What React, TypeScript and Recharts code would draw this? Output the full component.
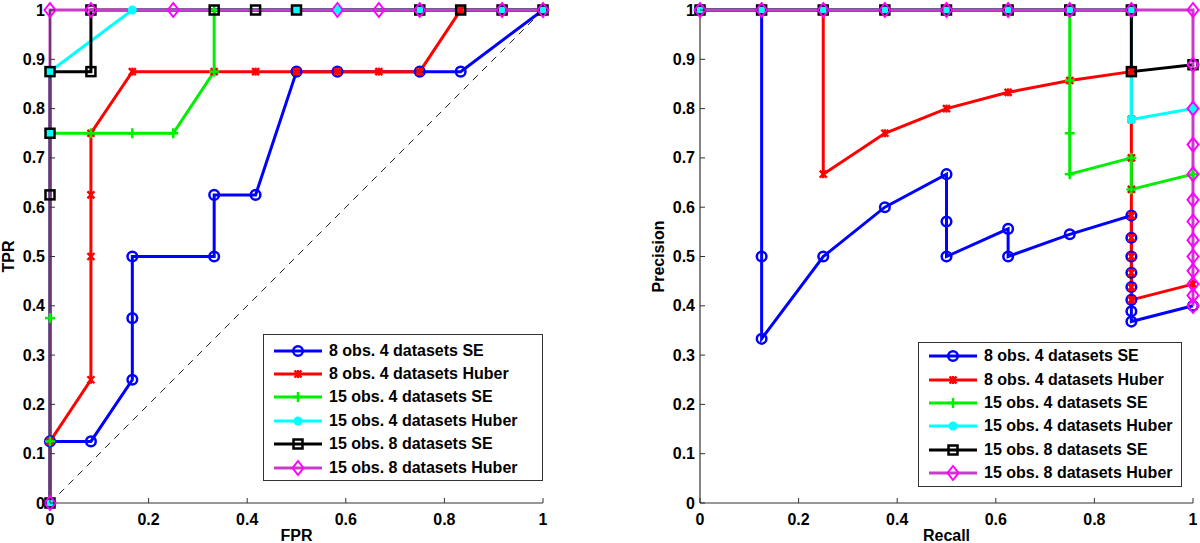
import { LineChart, Line, XAxis, YAxis, Legend } from "recharts";

const FONT = '"Liberation Sans", Arial, Helvetica, sans-serif';
const AXIS = "#333";

const SERIES_NAMES = [
  "8 obs. 4 datasets SE",
  "8 obs. 4 datasets Huber",
  "15 obs. 4 datasets SE",
  "15 obs. 4 datasets Huber",
  "15 obs. 8 datasets SE",
  "15 obs. 8 datasets Huber",
];
const SERIES_COLORS = ["#0000ff", "#ff0000", "#00ee00", "#00ffff", "#000000", "#ff00ff"];
const LINE_COLORS = ["#0000ff", "#ff0000", "#00ee00", "#00ffff", "#000000", "#c83cc8"];
const MARKERS = ["circle", "star", "plus", "dot", "square", "diamond"];

const X_TICKS = [0, 0.2, 0.4, 0.6, 0.8, 1];
const Y_TICKS = [0, 0.1, 0.2, 0.3, 0.4, 0.5, 0.6, 0.7, 0.8, 0.9, 1];

// ROC curves (FPR, TPR)
const roc8SeX = [0, 0, 0.083, 0.167, 0.167, 0.167, 0.333, 0.333, 0.417, 0.5, 0.583, 0.75, 0.833, 1];
const roc8SeY = [0, 0.125, 0.125, 0.25, 0.375, 0.5, 0.5, 0.625, 0.625, 0.875, 0.875, 0.875, 0.875, 1];
const roc8HuberX = [0, 0, 0.083, 0.083, 0.083, 0.083, 0.167, 0.333, 0.417, 0.5, 0.583, 0.667, 0.75, 0.833, 1];
const roc8HuberY = [0, 0.125, 0.25, 0.5, 0.625, 0.75, 0.875, 0.875, 0.875, 0.875, 0.875, 0.875, 0.875, 1, 1];
const roc15SeX = [0, 0, 0, 0, 0.083, 0.167, 0.25, 0.333, 0.333, 1];
const roc15SeY = [0, 0.125, 0.375, 0.75, 0.75, 0.75, 0.75, 0.875, 1, 1];
const roc15HuberX = [0, 0, 0, 0.167, 0.5, 0.583, 0.75, 0.917, 1];
const roc15HuberY = [0, 0.75, 0.875, 1, 1, 1, 1, 1, 1];
const roc15x8SeX = [0, 0, 0, 0, 0.083, 0.083, 0.333, 0.417, 0.5, 0.75, 0.833, 0.917, 1];
const roc15x8SeY = [0, 0.625, 0.75, 0.875, 0.875, 1, 1, 1, 1, 1, 1, 1, 1];
const roc15x8HuberX = [0, 0, 0.083, 0.25, 0.583, 0.667, 0.75, 0.917, 1];
const roc15x8HuberY = [0, 1, 1, 1, 1, 1, 1, 1, 1];
const rocChanceX = [0, 1];
const rocChanceY = [0, 1];

// Precision-recall curves (Recall, Precision)
const pr8SeX = [0, 0.125, 0.125, 0.125, 0.25, 0.375, 0.5, 0.5, 0.5, 0.625, 0.625, 0.75, 0.875, 0.875, 0.875, 0.875, 0.875, 0.875, 0.875, 0.875, 1];
const pr8SeY = [1, 1, 0.5, 0.333, 0.5, 0.6, 0.667, 0.571, 0.5, 0.556, 0.5, 0.545, 0.583, 0.538, 0.5, 0.467, 0.438, 0.412, 0.389, 0.368, 0.4];
const pr8HuberX = [0, 0.125, 0.25, 0.25, 0.375, 0.5, 0.625, 0.75, 0.875, 0.875, 0.875, 0.875, 0.875, 0.875, 0.875, 0.875, 0.875, 0.875, 1];
const pr8HuberY = [1, 1, 1, 0.667, 0.75, 0.8, 0.833, 0.857, 0.875, 0.778, 0.7, 0.636, 0.583, 0.538, 0.5, 0.467, 0.438, 0.412, 0.444];
const pr15SeX = [0, 0.125, 0.25, 0.375, 0.5, 0.625, 0.75, 0.75, 0.75, 0.75, 0.875, 0.875, 1];
const pr15SeY = [1, 1, 1, 1, 1, 1, 1, 0.857, 0.75, 0.667, 0.7, 0.636, 0.667];
const pr15HuberX = [0, 0.125, 0.25, 0.375, 0.5, 0.625, 0.75, 0.875, 0.875, 1];
const pr15HuberY = [1, 1, 1, 1, 1, 1, 1, 1, 0.778, 0.8];
const pr15x8SeX = [0, 0.125, 0.25, 0.375, 0.5, 0.625, 0.75, 0.875, 0.875, 1];
const pr15x8SeY = [1, 1, 1, 1, 1, 1, 1, 1, 0.875, 0.889];
const pr15x8HuberX = [0, 0.125, 0.25, 0.375, 0.5, 0.625, 0.75, 0.875, 1, 1, 1, 1, 1, 1, 1, 1, 1, 1, 1, 1, 1];
const pr15x8HuberY = [1, 1, 1, 1, 1, 1, 1, 1, 1, 0.889, 0.8, 0.727, 0.667, 0.615, 0.571, 0.533, 0.5, 0.471, 0.444, 0.421, 0.4];

type Pt = { x: number; y: number };
const toPoints = (xs: number[], ys: number[]): Pt[] => xs.map((x, i) => ({ x, y: ys[i] }));

const rocSeries = [
  toPoints(roc8SeX, roc8SeY),
  toPoints(roc8HuberX, roc8HuberY),
  toPoints(roc15SeX, roc15SeY),
  toPoints(roc15HuberX, roc15HuberY),
  toPoints(roc15x8SeX, roc15x8SeY),
  toPoints(roc15x8HuberX, roc15x8HuberY),
];
const prSeries = [
  toPoints(pr8SeX, pr8SeY),
  toPoints(pr8HuberX, pr8HuberY),
  toPoints(pr15SeX, pr15SeY),
  toPoints(pr15HuberX, pr15HuberY),
  toPoints(pr15x8SeX, pr15x8SeY),
  toPoints(pr15x8HuberX, pr15x8HuberY),
];

function Marker({ kind, cx, cy, color }: { kind: string; cx: number; cy: number; color: string }) {
  switch (kind) {
    case "circle":
      return <circle cx={cx} cy={cy} r={4.8} fill="none" stroke={color} strokeWidth={2.5} />;
    case "star":
      return (
        <g stroke={color} strokeWidth={2.4}>
          <line x1={cx - 3.5} y1={cy - 3.5} x2={cx + 3.5} y2={cy + 3.5} />
          <line x1={cx - 3.5} y1={cy + 3.5} x2={cx + 3.5} y2={cy - 3.5} />
          <line x1={cx} y1={cy - 4} x2={cx} y2={cy + 4} />
        </g>
      );
    case "plus":
      return (
        <g stroke={color} strokeWidth={2.5}>
          <line x1={cx - 5} y1={cy} x2={cx + 5} y2={cy} />
          <line x1={cx} y1={cy - 5} x2={cx} y2={cy + 5} />
        </g>
      );
    case "dot":
      return <circle cx={cx} cy={cy} r={4.5} fill={color} />;
    case "square":
      return <rect x={cx - 4.5} y={cy - 4.5} width={9} height={9} fill="none" stroke={color} strokeWidth={2.5} />;
    case "diamond":
      return (
        <polygon
          points={`${cx},${cy - 7} ${cx + 5.5},${cy} ${cx},${cy + 7} ${cx - 5.5},${cy}`}
          fill="none"
          stroke={color}
          strokeWidth={2}
        />
      );
    default:
      return null;
  }
}

const fmt = (v: number) => String(Number(v.toFixed(1)));

const tickText = { fontFamily: FONT, fontSize: 16, fontWeight: 700, fill: "#000" };

const BottomTick = (p: any) => (
  <g>
    <line x1={p.x} y1={p.y} x2={p.x} y2={p.y - 5} stroke={AXIS} />
    <text x={p.x} y={p.y + 22} textAnchor="middle" style={tickText}>
      {fmt(p.payload.value)}
    </text>
  </g>
);
const TopTick = (p: any) => <line x1={p.x} y1={p.y} x2={p.x} y2={p.y + 5} stroke={AXIS} />;
const LeftTick = (p: any) => (
  <g>
    <line x1={p.x} y1={p.y} x2={p.x + 5} y2={p.y} stroke={AXIS} />
    <text x={p.x - 5} y={p.y + 5.5} textAnchor="end" style={tickText}>
      {fmt(p.payload.value)}
    </text>
  </g>
);
const RightTick = (p: any) => <line x1={p.x} y1={p.y} x2={p.x - 5} y2={p.y} stroke={AXIS} />;

function LegendBox({ width, height, padTop }: { width: number; height: number; padTop: number }) {
  return (
    <div
      style={{
        width,
        height,
        boxSizing: "border-box",
        border: `1px solid ${AXIS}`,
        background: "#fff",
        paddingTop: padTop,
      }}
    >
      {SERIES_NAMES.map((name, i) => (
        <div key={name} style={{ display: "flex", alignItems: "center", height: 23.4 }}>
          <svg width={65} height={20} style={{ flex: "none" }}>
            <line x1={10} y1={10} x2={58} y2={10} stroke={LINE_COLORS[i]} strokeWidth={3} />
            <Marker kind={MARKERS[i]} cx={34} cy={10} color={SERIES_COLORS[i]} />
          </svg>
          <span
            style={{
              fontFamily: FONT,
              fontSize: 16,
              fontWeight: 700,
              color: "#000",
              whiteSpace: "nowrap",
            }}
          >
            {name}
          </span>
        </div>
      ))}
    </div>
  );
}

interface PanelProps {
  series: Pt[][];
  chance?: Pt[];
  xLabel: string;
  yLabel: string;
  left: number;
  width: number;
  rightMargin: number;
  legend: { left: number; top: number; width: number; height: number; padTop: number };
}

function Panel({ series, chance, xLabel, yLabel, left, width, rightMargin, legend }: PanelProps) {
  return (
    <div style={{ position: "absolute", left, top: 0 }}>
      <LineChart width={width} height={543} margin={{ top: 10, right: rightMargin, bottom: 0, left: 0 }}>
        <XAxis
          dataKey="x"
          type="number"
          domain={[0, 1]}
          ticks={X_TICKS}
          interval={0}
          tickSize={0}
          tickMargin={0}
          tick={BottomTick}
          height={40}
          axisLine={{ stroke: AXIS, strokeWidth: 1.2 }}
          label={{
            content: (p: any) => (
              <text
                x={p.viewBox.x + p.viewBox.width / 2}
                y={p.viewBox.y + 38}
                textAnchor="middle"
                style={tickText}
              >
                {xLabel}
              </text>
            ),
          }}
        />
        <XAxis
          xAxisId="top"
          orientation="top"
          type="number"
          domain={[0, 1]}
          allowDataOverflow
          ticks={X_TICKS}
          interval={0}
          tickSize={0}
          tickMargin={0}
          tick={TopTick}
          height={0}
          axisLine={{ stroke: AXIS, strokeWidth: 1.2 }}
        />
        <YAxis
          type="number"
          domain={[0, 1]}
          ticks={Y_TICKS}
          interval={0}
          tickSize={0}
          tickMargin={0}
          tick={LeftTick}
          width={50}
          axisLine={{ stroke: AXIS, strokeWidth: 1.2 }}
          label={{
            content: (p: any) => {
              const cx = 14;
              const cy = p.viewBox.y + p.viewBox.height / 2;
              return (
                <text x={cx} y={cy} transform={`rotate(-90 ${cx} ${cy})`} textAnchor="middle" style={tickText}>
                  {yLabel}
                </text>
              );
            },
          }}
        />
        <YAxis
          yAxisId="right"
          orientation="right"
          type="number"
          domain={[0, 1]}
          allowDataOverflow
          ticks={Y_TICKS}
          interval={0}
          tickSize={0}
          tickMargin={0}
          tick={RightTick}
          width={0}
          axisLine={{ stroke: AXIS, strokeWidth: 1.2 }}
        />
        {chance && (
          <Line
            data={chance}
            dataKey="y"
            stroke="#222"
            strokeWidth={1}
            strokeDasharray="7 6"
            dot={false}
            activeDot={false}
            isAnimationActive={false}
            legendType="none"
          />
        )}
        {series.map((pts, i) => (
          <Line
            key={SERIES_NAMES[i]}
            name={SERIES_NAMES[i]}
            data={pts}
            dataKey="y"
            stroke={LINE_COLORS[i]}
            strokeWidth={3}
            activeDot={false}
            isAnimationActive={false}
            dot={(d: any) => (
              <Marker key={`m-${i}-${d.index}`} kind={MARKERS[i]} cx={d.cx} cy={d.cy} color={SERIES_COLORS[i]} />
            )}
          />
        ))}
        <Legend
          layout="horizontal"
          verticalAlign="middle"
          align="center"
          wrapperStyle={{ left: legend.left, top: legend.top, width: legend.width, height: legend.height }}
          content={() => <LegendBox width={legend.width} height={legend.height} padTop={legend.padTop} />}
        />
      </LineChart>
    </div>
  );
}

export default function App() {
  return (
    <div style={{ position: "absolute", left: 0, top: 0, width: 1200, height: 543, background: "#fff" }}>
      <Panel
        series={rocSeries}
        chance={toPoints(rocChanceX, rocChanceY)}
        xLabel="FPR"
        yLabel="TPR"
        left={0}
        width={600}
        rightMargin={57}
        legend={{ left: 263, top: 334, width: 280, height: 147, padTop: 4 }}
      />
      <Panel
        series={prSeries}
        xLabel="Recall"
        yLabel="Precision"
        left={650}
        width={550}
        rightMargin={7}
        legend={{ left: 268, top: 342, width: 264, height: 145, padTop: 1.5 }}
      />
    </div>
  );
}
